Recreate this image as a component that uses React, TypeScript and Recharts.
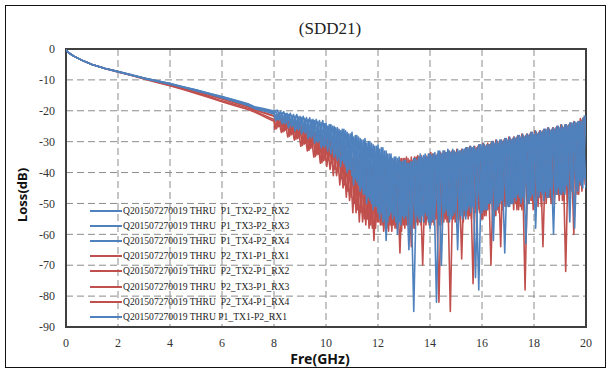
import { LineChart, Line, XAxis, YAxis, CartesianGrid, ReferenceArea, Legend } from 'recharts'

const BLUE = '#4F81BD'
const RED = '#C0504D'

// sweep points: smooth low band, short strands, then the dense noisy band
const FREQ_SMOOTH = [0, 0.1, 0.3, 0.6, 1, 1.5, 2, 2.5, 3, 3.5, 4, 4.5, 5, 5.5, 6, 6.5, 7]
const FREQ_STRAND = [7.25, 7.5, 7.75, 8]
const FREQ_DENSE = [
    8.125, 8.25, 8.375, 8.5, 8.625, 8.75, 8.875, 9,
    9.125, 9.25, 9.375, 9.5, 9.625, 9.75, 9.875, 10,
    10.125, 10.25, 10.375, 10.5, 10.625, 10.75, 10.875, 11,
    11.125, 11.25, 11.375, 11.5, 11.625, 11.75, 11.875, 12,
    12.125, 12.25, 12.375, 12.5, 12.625, 12.75, 12.875, 13,
    13.125, 13.25, 13.375, 13.5, 13.625, 13.75, 13.875, 14,
    14.125, 14.25, 14.375, 14.5, 14.625, 14.75, 14.875, 15,
    15.125, 15.25, 15.375, 15.5, 15.625, 15.75, 15.875, 16,
    16.125, 16.25, 16.375, 16.5, 16.625, 16.75, 16.875, 17,
    17.125, 17.25, 17.375, 17.5, 17.625, 17.75, 17.875, 18,
    18.125, 18.25, 18.375, 18.5, 18.625, 18.75, 18.875, 19,
    19.125, 19.25, 19.375, 19.5, 19.625, 19.75, 19.875, 20,
]

const X_TICKS = [0, 2, 4, 6, 8, 10, 12, 14, 16, 18, 20]
const Y_TICKS = [0, -10, -20, -30, -40, -50, -60, -70, -80, -90]

const P1_TX2_P2_RX2 = [
    -0.3, -1.2, -2.3, -3.6, -5.0, -6.3, -7.3, -8.4, -9.4, -10.3, -11.2, -12.2, -13.2, -14.3, -15.4, -16.5, -17.7,
    -18.7, -19.1, -19.6, -20.1,
    -19.8, -22.5, -20.3, -23.5, -20.8, -24.8, -21.2, -25.5, -21.8, -26.8, -22.3, -28, -22.8, -29.5, -23.2, -31,
    -24.5, -32, -25.5, -35, -26, -38, -27.5, -41, -28, -44, -29.5, -47, -30, -50, -31.5, -53, -32, -55, -34, -53,
    -35, -60, -36.5, -55, -37, -57, -35.5, -54, -34, -56, -35, -58, -34, -82, -33, -53, -33.5, -56, -32.5, -52,
    -33, -55, -32, -51, -32, -74, -31, -53, -31.5, -50, -30, -52, -30.5, -49, -29, -51, -29.5, -48, -28, -50,
    -28.5, -47, -27, -49, -27.5, -46, -26, -48, -26.5, -60, -25, -47, -25.5, -44, -24, -46, -24, -43, -22.5, -45,
]
const P1_TX3_P2_RX3 = [
    -0.3, -1.2, -2.3, -3.6, -5.0, -6.3, -7.4, -8.4, -9.5, -10.4, -11.3, -12.3, -13.4, -14.5, -15.7, -16.9, -18.1,
    -19.0, -19.5, -20.0, -20.6,
    -22.8, -20.2, -23.8, -20.8, -24.5, -21.2, -25.8, -21.8, -26.5, -22.2, -28.2, -22.8, -29.8, -23.2, -31.2, -24,
    -31, -25, -34, -26, -36, -26.5, -39, -27, -42, -28.5, -45, -29, -48, -30.5, -51, -31, -53, -33, -56, -34,
    -54, -35.5, -57, -36, -55, -36.5, -85, -36, -56, -34.5, -54, -34, -55, -34.5, -57, -33, -52, -33, -54, -33.5,
    -52, -32.5, -55, -32, -51, -32.5, -78, -31, -52, -31, -49, -30.5, -51, -29.5, -66, -29.5, -50, -28.5, -47, -28.5,
    -49, -27.5, -48, -27.5, -46, -26.5, -49, -26, -45, -25.5, -47, -25.5, -46, -24.5, -56, -24, -44, -23.5, -45, -21.5,
]
const P1_TX4_P2_RX4 = [
    -0.3, -1.2, -2.3, -3.6, -5.0, -6.3, -7.3, -8.3, -9.4, -10.3, -11.2, -12.3, -13.3, -14.4, -15.5, -16.7, -17.9,
    -18.9, -19.4, -19.9, -20.5,
    -20.2, -23, -20.6, -24.2, -21.2, -25.2, -21.8, -26.2, -22.2, -27.2, -22.8, -28.8, -23.2, -30.2, -23.8, -31.8,
    -25, -34, -25, -36, -26.5, -37, -27, -39, -28.5, -43, -29, -47, -30.5, -49, -31, -51, -32.5, -56, -33, -54,
    -35.5, -56, -35, -54, -36, -65, -36.5, -55, -35, -54, -34, -56, -34.5, -53, -33, -70, -33, -54, -33.5, -53,
    -32.5, -54, -32.5, -52, -31.5, -53, -32, -51, -30.5, -52, -31, -62, -29.5, -50, -30, -49, -28.5, -50, -29, -48,
    -27.5, -63, -28, -47, -26.5, -48, -27, -46, -25.5, -48, -26, -45, -24.5, -47, -25, -44, -23.5, -46, -23.5, -42,
]
const P2_TX1_P1_RX1 = [
    -0.3, -1.2, -2.3, -3.6, -5.0, -6.3, -7.3, -8.4, -9.5, -10.5, -11.5, -12.5, -13.6, -14.8, -16.0, -17.2, -18.5,
    -19.5, -20.2, -20.9, -21.6,
    -21.8, -25, -22.2, -26.2, -22.8, -27.5, -23.8, -28.8, -24.8, -30.5, -25.8, -32, -26.8, -34, -27.8, -36,
    -28.5, -37, -29.5, -40, -31, -44, -33.5, -48, -35, -52, -36.5, -55, -37, -57, -38, -56, -37, -59, -37.5, -57,
    -36, -58, -35.5, -57, -35, -59, -36, -56, -35, -70, -34.5, -57, -34, -55, -34.5, -57, -33.5, -54, -33, -56,
    -33.5, -68, -32.5, -55, -32, -53, -31.5, -55, -31, -52, -30.5, -54, -30, -64, -29.5, -50, -29, -52, -28.5, -51,
    -28, -49, -27.5, -52, -27, -48, -26.5, -50, -26, -47, -25.5, -49, -25, -72, -24.5, -46, -24, -47, -23, -44,
]
const P2_TX2_P1_RX2 = [
    -0.3, -1.2, -2.3, -3.6, -5.0, -6.3, -7.4, -8.5, -9.6, -10.7, -11.8, -12.9, -14.1, -15.4, -16.8, -18.0, -19.2,
    -20.1, -21.0, -21.9, -22.8,
    -25.8, -21.8, -26.8, -22.5, -28.2, -23, -29.2, -24, -31.2, -25, -32.8, -26, -34.8, -27, -36.8, -28,
    -36, -29, -39, -30, -42, -31.5, -46, -33, -50, -35.5, -53, -36, -55, -37.5, -62, -37, -57, -37.5, -58, -36.5,
    -57, -37, -66, -35.5, -57, -36, -58, -35, -56, -35.5, -57, -34, -56, -34.5, -82, -34, -55, -33, -54, -33.5,
    -56, -32.5, -54, -33, -55, -31.5, -52, -32, -54, -30.5, -70, -31, -52, -29.5, -51, -30, -50, -28.5, -52, -29,
    -51, -27.5, -49, -28, -50, -26.5, -64, -27, -48, -25.5, -47, -26, -49, -24.5, -47, -25, -45, -23.5, -46, -22.5,
]
const P2_TX3_P1_RX3 = [
    -0.3, -1.2, -2.3, -3.6, -5.0, -6.3, -7.3, -8.4, -9.5, -10.6, -11.6, -12.7, -13.8, -15.0, -16.2, -17.5, -18.7,
    -19.7, -20.4, -21.1, -21.8,
    -22, -25.2, -22.5, -26.5, -23, -27.8, -24, -29, -25, -30.8, -26, -32.2, -27, -34.2, -28, -36.2,
    -29, -39, -30, -41, -32, -45, -33, -49, -35.5, -53, -36, -56, -37.5, -58, -37, -58, -36.5, -57, -37, -59,
    -35.5, -58, -36, -59, -35.5, -57, -35, -58, -34.5, -57, -35, -55, -33.5, -57, -34, -54, -33, -56, -33.5, -55,
    -32.5, -55, -33, -54, -31.5, -76, -32, -53, -30.5, -54, -31, -52, -29.5, -53, -30, -51, -28.5, -50, -29, -52,
    -27.5, -78, -28, -49, -26.5, -51, -27, -48, -25.5, -50, -26, -47, -24.5, -49, -25, -46, -23.5, -47, -22.5, -41,
]
const P2_TX4_P1_RX4 = [
    -0.3, -1.2, -2.3, -3.6, -5.0, -6.3, -7.4, -8.5, -9.7, -10.8, -11.9, -13.1, -14.4, -15.7, -17.1, -18.4, -19.6,
    -20.4, -21.4, -22.4, -23.4,
    -26, -22, -27, -22.8, -28.5, -23.2, -29.5, -24.2, -31.5, -25.2, -33, -26.2, -35, -27.2, -37, -28.2,
    -38, -28, -41, -29.5, -44, -31, -48, -32.5, -53, -34.5, -56, -36, -57, -37, -58, -36.5, -56, -37, -58, -36.5,
    -59, -36, -57, -35.5, -58, -35.5, -64, -35, -57, -34.5, -56, -35, -57, -34, -55, -33.5, -56, -34, -85, -33,
    -55, -33, -56, -32, -54, -32.5, -53, -31, -55, -31.5, -52, -30, -54, -30.5, -52, -29, -51, -29.5, -50, -28,
    -52, -28.5, -50, -27, -49, -27.5, -51, -26, -48, -26.5, -50, -25, -47, -25.5, -49, -24, -60, -24.5, -44, -22,
]
const P1_TX1_P2_RX1 = [
    -0.3, -1.2, -2.3, -3.6, -5.0, -6.2, -7.3, -8.4, -9.5, -10.4, -11.4, -12.4, -13.5, -14.6, -15.8, -17.0, -18.3,
    -19.3, -19.8, -20.4, -21.0,
    -23.2, -20.5, -24.2, -21, -25.5, -21.5, -26.5, -22, -27.5, -22.5, -29, -23, -30.5, -23.5, -32, -24.2,
    -33, -24.5, -35, -25.5, -38, -26, -40, -27.5, -44, -28, -46, -29.5, -50, -30, -52, -31.5, -55, -32, -62, -34,
    -55, -35, -56, -36.5, -54, -37, -56, -35.5, -55, -35, -53, -34, -56, -33.5, -54, -34, -53, -32.5, -55, -33,
    -65, -33, -52, -32, -53, -31.5, -50, -31, -52, -31, -50, -30, -52, -29.5, -48, -29, -51, -29, -49, -28,
    -48, -28, -50, -27, -58, -27, -47, -26, -48, -26, -46, -25, -47, -24.5, -45, -24, -58, -23.5, -44, -21.5,
]

// legend order; shift staggers each sweep's dense samples
const SERIES = [
    { name: 'Q201507270019 THRU  P1_TX2-P2_RX2', values: P1_TX2_P2_RX2, color: BLUE, shift: 0 },
    { name: 'Q201507270019 THRU  P1_TX3-P2_RX3', values: P1_TX3_P2_RX3, color: BLUE, shift: 0 },
    { name: 'Q201507270019 THRU  P1_TX4-P2_RX4', values: P1_TX4_P2_RX4, color: BLUE, shift: 0.0625 },
    { name: 'Q201507270019 THRU  P2_TX1-P1_RX1', values: P2_TX1_P1_RX1, color: RED, shift: 0.03125 },
    { name: 'Q201507270019 THRU  P2_TX2-P1_RX2', values: P2_TX2_P1_RX2, color: RED, shift: 0.03125 },
    { name: 'Q201507270019 THRU  P2_TX3-P1_RX3', values: P2_TX3_P1_RX3, color: RED, shift: 0.09375 },
    { name: 'Q201507270019 THRU  P2_TX4-P1_RX4', values: P2_TX4_P1_RX4, color: RED, shift: 0.09375 },
    { name: 'Q201507270019 THRU P1_TX1-P2_RX1', values: P1_TX1_P2_RX1, color: BLUE, shift: 0.0625 },
]

// reds underneath, blues on top
const DRAW_ORDER = [...SERIES.filter(s => s.color === RED), ...SERIES.filter(s => s.color === BLUE)]

const buildPoints = (values: number[], shift: number) => {
    const a = FREQ_SMOOTH.length
    const b = a + FREQ_STRAND.length
    return [
        ...FREQ_SMOOTH.map((f, i) => ({ f, v: values[i] })),
        ...FREQ_STRAND.map((f, i) => ({ f, v: values[a + i] })),
        ...FREQ_DENSE.map((f, i) => ({ f: f - shift, v: values[b + i] })),
    ]
}

const tickStyle = { fontFamily: '"Liberation Serif", serif', fontSize: 12, fill: '#333' }

const renderLegend = () => (
    <div style={{ fontFamily: '"Liberation Serif", serif', fontSize: 9.6, color: '#222' }}>
        {SERIES.map(s => (
            <div key={s.name} style={{ display: 'flex', alignItems: 'center', height: 15.1 }}>
                <span style={{ display: 'inline-block', width: 32, height: 2, background: s.color, marginRight: 1 }} />
                <span style={{ whiteSpace: 'pre', lineHeight: '12px' }}>{s.name}</span>
            </div>
        ))}
    </div>
)

export default function App() {
    return (
        <div style={{ position: 'absolute', left: 0, top: 0, width: 612, height: 370, background: '#fff' }}>
            <div
                style={{
                    position: 'absolute', left: 5, top: 5, width: 601, height: 363,
                    border: '1.5px solid #111', boxSizing: 'border-box',
                }}
            />
            <div
                style={{
                    position: 'absolute', left: 230, top: 19, width: 200, textAlign: 'center',
                    fontFamily: '"Liberation Serif", serif', fontSize: 17, lineHeight: '20px', color: '#222',
                }}
            >
                (SDD21)
            </div>
            <div style={{ position: 'absolute', left: 0, top: 0 }}>
                <LineChart width={612} height={370} margin={{ top: 49, right: 26, bottom: 0, left: 0 }}>
                    <CartesianGrid stroke="#8c8c8c" strokeDasharray="7 4" strokeWidth={1} />
                    <XAxis
                        type="number"
                        dataKey="f"
                        domain={[0, 20]}
                        ticks={X_TICKS}
                        height={43}
                        tickLine={false}
                        axisLine={false}
                        tickSize={4}
                        tickMargin={7}
                        tick={tickStyle}
                        allowDataOverflow
                    />
                    <YAxis
                        type="number"
                        domain={[-90, 0]}
                        ticks={Y_TICKS}
                        width={66}
                        tickLine={false}
                        axisLine={false}
                        tickSize={4}
                        tickMargin={7}
                        tick={tickStyle}
                        allowDataOverflow
                    />
                    <Legend
                        layout="vertical"
                        align="center"
                        verticalAlign="middle"
                        content={renderLegend}
                        wrapperStyle={{ left: 90, top: 203.5, width: 240, height: 'auto' }}
                    />
                    {DRAW_ORDER.map(s => (
                        <Line
                            key={s.name}
                            data={buildPoints(s.values, s.shift)}
                            dataKey="v"
                            type="linear"
                            stroke={s.color}
                            strokeWidth={1.6}
                            strokeLinejoin="round"
                            dot={false}
                            isAnimationActive={false}
                        />
                    ))}
                    <ReferenceArea x1={0} x2={20} y1={-90} y2={0} fill="none" stroke="#404040" strokeWidth={2} />
                </LineChart>
            </div>
            <div
                style={{
                    position: 'absolute', left: 22, top: 195, transform: 'translate(-50%, -50%) rotate(-90deg)',
                    fontFamily: '"Noto Sans", sans-serif', fontWeight: 700, fontSize: 13, lineHeight: '14px',
                    whiteSpace: 'nowrap', color: '#111',
                }}
            >
                Loss(dB)
            </div>
            <div
                style={{
                    position: 'absolute', left: 320, top: 358, transform: 'translate(-50%, -50%)',
                    fontFamily: '"Noto Sans", sans-serif', fontWeight: 700, fontSize: 14, lineHeight: '15px',
                    whiteSpace: 'nowrap', color: '#111',
                }}
            >
                Fre(GHz)
            </div>
        </div>
    )
}
